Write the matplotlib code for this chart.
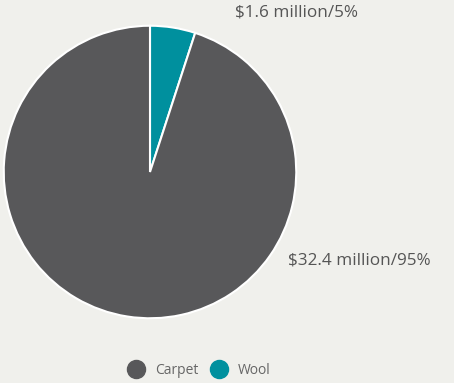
import matplotlib.pyplot as plt
from matplotlib.lines import Line2D

plt.rcParams['font.family'] = ['Open Sans', 'DejaVu Sans']

labels = ['Wool', 'Carpet']
values = [1.6, 32.4]
pct = [5, 95]
colors = ['#00909e', '#58585a']
bg = '#f0f0ec'

fig = plt.figure(figsize=(4.54, 3.83), dpi=100, facecolor=bg)
ax = fig.add_axes([3/454, 64/383, 294/454, 294/383])
ax.set_facecolor(bg)
ax.pie(pct, colors=colors, startangle=90, counterclock=False,
       wedgeprops=dict(edgecolor='white', linewidth=1.5))
ax.set_xlim(-1.005, 1.005)
ax.set_ylim(-1.005, 1.005)
ax.set_aspect('equal')
ax.axis('off')

# data labels
fig.text(235/454, 1 - 12/383, '\\$%.1f million/%d%%' % (values[0], pct[0]),
         ha='left', va='center', fontsize=12.3, color='#555555')
fig.text(288/454, 1 - 261/383, '\\$%.1f million/%d%%' % (values[1], pct[1]),
         ha='left', va='center', fontsize=12.3, color='#555555')

# legend
handles = [Line2D([], [], marker='o', ls='', markersize=13, color=colors[1]),
           Line2D([], [], marker='o', ls='', markersize=13, color=colors[0])]
fig.legend(handles, ['Carpet', 'Wool'], loc='center', ncol=2,
           bbox_to_anchor=(199/454, 1 - 370/383), frameon=False,
           fontsize=10, labelcolor='#666666', handletextpad=0.76,
           columnspacing=0.9, handlelength=1.2, borderpad=0)

fig.savefig('out.png', dpi=100, facecolor=bg)
